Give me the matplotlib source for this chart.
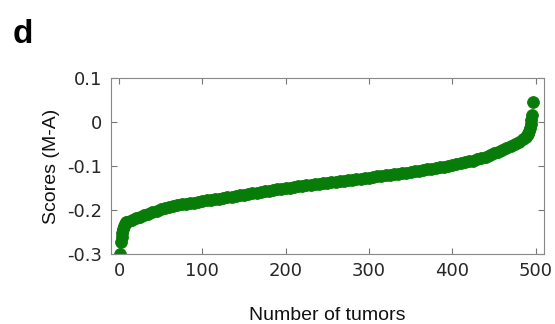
import numpy as np
import matplotlib.pyplot as plt

# tumor index and score (M-A)
tumor_idx = [1, 2, 3, 4, 5, 6, 7, 8, 10, 15, 20, 25, 30, 35, 40, 45, 50, 55, 60, 65,
             70, 75, 80, 85, 90, 95, 100, 105, 110, 115, 120, 125, 130, 135, 140, 145,
             150, 155, 160, 165, 170, 175, 180, 185, 190, 195, 200, 205, 210, 215, 220,
             225, 230, 235, 240, 245, 250, 255, 260, 265, 270, 275, 280, 285, 290, 295,
             300, 305, 310, 315, 320, 325, 330, 335, 340, 345, 350, 355, 360, 365, 370,
             375, 380, 385, 390, 395, 400, 405, 410, 415, 420, 425, 430, 435, 440, 445,
             450, 455, 460, 465, 470, 475, 480, 485, 488, 490, 491, 492, 493, 494, 495,
             496, 497]
scores = [-0.300, -0.273, -0.262, -0.252, -0.243, -0.236, -0.231, -0.228, -0.226, -0.222,
          -0.219, -0.215, -0.211, -0.208, -0.205, -0.201, -0.198, -0.196, -0.193, -0.191,
          -0.189, -0.187, -0.186, -0.184, -0.183, -0.181, -0.180, -0.178, -0.177, -0.175,
          -0.174, -0.172, -0.171, -0.169, -0.168, -0.166, -0.165, -0.163, -0.162, -0.160,
          -0.159, -0.157, -0.156, -0.154, -0.153, -0.151, -0.150, -0.149, -0.147, -0.146,
          -0.145, -0.143, -0.142, -0.141, -0.140, -0.139, -0.138, -0.137, -0.135, -0.134,
          -0.133, -0.132, -0.131, -0.129, -0.128, -0.127, -0.126, -0.125, -0.123, -0.122,
          -0.121, -0.120, -0.118, -0.117, -0.116, -0.115, -0.113, -0.112, -0.110, -0.109,
          -0.107, -0.106, -0.104, -0.102, -0.101, -0.099, -0.097, -0.095, -0.093, -0.091,
          -0.089, -0.087, -0.084, -0.081, -0.078, -0.075, -0.071, -0.067, -0.063, -0.059,
          -0.054, -0.049, -0.044, -0.038, -0.034, -0.030, -0.026, -0.020, -0.012, -0.003,
          0.006, 0.016, 0.046]

xticks = [0, 100, 200, 300, 400, 500]
yticks = [-0.3, -0.2, -0.1, 0, 0.1]
ytick_labels = ['-0.3', '-0.2', '-0.1', '0', '0.1']

fig = plt.figure(figsize=(5.55, 3.24), dpi=100)
ax = fig.add_axes([0.1995, 0.216, 0.7805, 0.542])

ax.plot(tumor_idx, scores, 'o', color='#087c08', markersize=8.5,
        markeredgewidth=0.6, markeredgecolor='#087c08')

ax.set_xlim(-10, 510)
ax.set_ylim(-0.3, 0.1)
ax.set_xticks(xticks)
ax.set_yticks(yticks)
ax.set_yticklabels(ytick_labels)
ax.tick_params(direction='in', top=True, right=True, length=4, width=0.8,
               color='#777777', labelcolor='#262626', labelsize=13, pad=6)
for lbl in ax.get_xticklabels() + ax.get_yticklabels():
    lbl.set_family('DejaVu Sans')
for s in ax.spines.values():
    s.set_color('#888888')
    s.set_linewidth(0.8)

ax.set_xlabel('Number of tumors', fontsize=14, family='Liberation Sans',
              color='#111111', labelpad=19)
ax.set_ylabel('Scores (M-A)', fontsize=14, family='Liberation Sans',
              color='#111111', labelpad=5)

fig.text(0.022, 0.867, 'd', fontsize=24, fontweight='bold', color='black',
         family='Liberation Sans', va='baseline')

fig.savefig('out.png', dpi=100)
